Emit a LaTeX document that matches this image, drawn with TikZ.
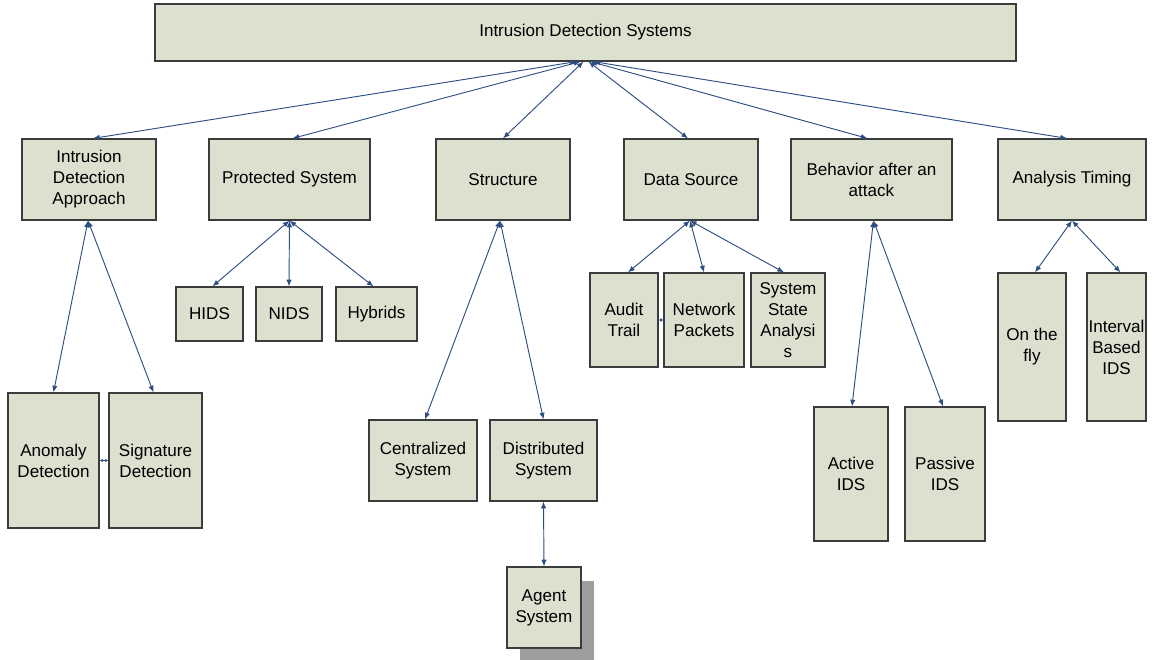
\documentclass[tikz,border=0pt]{standalone}
\usepackage{fontspec}
\setmainfont{Liberation Sans}
\usetikzlibrary{arrows.meta,shadows}
\definecolor{boxfill}{RGB}{220,224,206}
\definecolor{boxline}{RGB}{60,60,60}
\definecolor{linkblue}{RGB}{44,78,128}
\tikzset{
  box/.style={draw=boxline, fill=boxfill, line width=0.9pt, align=center,
    inner sep=0pt, font=\fontsize{12.8}{15.75}\selectfont},
  link/.style={draw=linkblue, line width=0.7pt,
    {Latex[length=5pt,width=4pt]}-{Latex[length=5pt,width=4pt]}},
  tinylink/.style={draw=linkblue, line width=0.7pt,
    {Latex[length=2.5pt,width=2.5pt]}-{Latex[length=2.5pt,width=2.5pt]}},
}
% \ibox[options]{x1}{y1}{x2}{y2}{name}{text}: box between two corners
\newcommand\ibox[7][]{\node[box,#1,minimum width={(#4-#2)*0.75pt},
  minimum height={(#5-#3)*0.75pt}] (#6) at ({(#2+#4)/2},{(#3+#5)/2}) {#7};}
\begin{document}
\begin{tikzpicture}[x=0.75pt,y=-0.75pt]
\useasboundingbox (0,0) rectangle (1158,660);

% root
\ibox{155}{4}{1016}{61}{ids}{Intrusion Detection Systems}

% first level
\ibox{22}{139}{156}{220}{ida}{Intrusion\\Detection\\Approach}
\ibox{209}{139}{370}{220}{prot}{Protected System}
\ibox{436}{139}{570}{220}{struct}{Structure}
\ibox{624}{139}{758}{220}{dsrc}{Data Source}
\ibox{791}{139}{952}{220}{behav}{Behavior after an\\attack}
\ibox{998}{139}{1146}{220}{timing}{Analysis Timing}

% second level
\ibox{8}{393}{99}{528}{anom}{Anomaly\\Detection}
\ibox{109}{393}{202}{528}{sig}{Signature\\Detection}
\ibox{176}{287}{243}{341}{hids}{HIDS}
\ibox{256}{287}{322}{341}{nids}{NIDS}
\ibox{336}{287}{417}{341}{hyb}{Hybrids}
\ibox{369}{420}{477}{501}{cent}{Centralized\\System}
\ibox{490}{420}{597}{501}{dist}{Distributed\\System}
\ibox[drop shadow={shadow xshift=9.75pt,shadow yshift=-10.5pt,fill=black!38,opacity=1}]{507}{567}{581}{648}{agent}{Agent\\System}
\ibox{590}{273}{658}{367}{audit}{Audit\\Trail}
\ibox{664}{273}{744}{367}{netp}{Network\\Packets}
\ibox{751}{273}{825}{367}{ssa}{System\\State\\Analysi\\s}
\ibox{814}{407}{888}{541}{active}{Active\\IDS}
\ibox{905}{407}{985}{541}{passive}{Passive\\IDS}
\ibox{998}{273}{1066}{421}{fly}{On the\\fly}
\ibox{1087}{273}{1146}{421}{interval}{Interval\\Based\\IDS}

% root to first level
\draw[link] ([xshift=-6.75pt]ids.south) -- ([xshift=3pt]ida.north);
\draw[link] ([xshift=-3.75pt]ids.south) -- ([xshift=2.25pt]prot.north);
\draw[link] ([xshift=-1.5pt]ids.south) -- (struct.north);
\draw[link] ([xshift=2.25pt]ids.south) -- ([xshift=-2.25pt]dsrc.north);
\draw[link] ([xshift=3.75pt]ids.south) -- ([xshift=-3pt]behav.north);
\draw[link] ([xshift=6pt]ids.south) -- ([xshift=-3.75pt]timing.north);

% first level to second level
\draw[link] ([xshift=-0.75pt]ida.south) -- (anom.north);
\draw[link] ([xshift=-0.75pt]ida.south) -- ([xshift=-1.5pt]sig.north);
\draw[link] (prot.south) -- ([xshift=2.25pt]hids.north);
\draw[link] (prot.south) -- (nids.north);
\draw[link] (prot.south) -- ([xshift=-2.25pt]hyb.north);
\draw[link] ([xshift=-2.25pt]struct.south) -- ([xshift=1.5pt]cent.north);
\draw[link] ([xshift=-2.25pt]struct.south) -- (dist.north);
\draw[link] (dist.south) -- (agent.north);
\draw[link] ([xshift=-0.75pt]dsrc.south) -- ([xshift=3pt]audit.north);
\draw[link] ([xshift=-0.75pt]dsrc.south) -- (netp.north);
\draw[link] ([xshift=-0.75pt]dsrc.south) -- ([xshift=-3pt]ssa.north);
\draw[link] ([xshift=1.5pt]behav.south) -- ([xshift=0.75pt]active.north);
\draw[link] ([xshift=1.5pt]behav.south) -- ([xshift=-1.5pt]passive.north);
\draw[link] (timing.south) -- ([xshift=2.25pt]fly.north);
\draw[link] (timing.south) -- ([xshift=3pt]interval.north);

% side links between neighbours
\draw[tinylink] (anom.east) -- (sig.west);
\draw[tinylink] (audit.east) -- (netp.west);
\end{tikzpicture}
\end{document}
